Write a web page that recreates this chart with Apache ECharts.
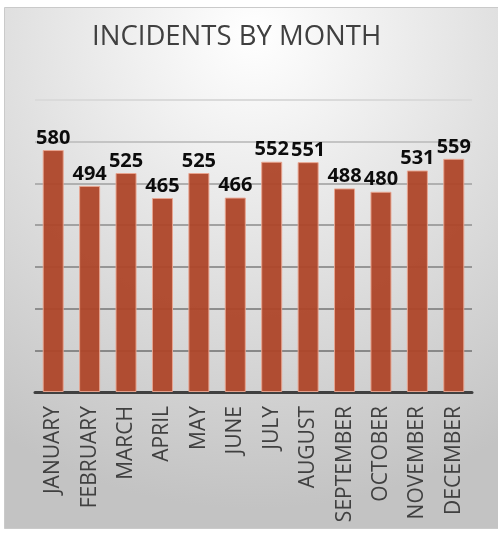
<!DOCTYPE html>
<html>
<head>
  <meta charset="utf-8">
  <title>Incidents by month</title>
  <script src="https://cdn.jsdelivr.net/npm/echarts@6.0.0/dist/echarts.min.js"></script>
  <style>
    html, body { margin: 0; padding: 0; background: #fff; }
  </style>
</head>
<body>
  <div id="main" style="width:498px; height:535px;"></div>
  <script type="text/javascript">
    const months = ['JANUARY', 'FEBRUARY', 'MARCH', 'APRIL', 'MAY', 'JUNE', 'JULY',
      'AUGUST', 'SEPTEMBER', 'OCTOBER', 'NOVEMBER', 'DECEMBER'];
    const incidents = [580, 494, 525, 465, 525, 466, 552, 551, 488, 480, 531, 559];

    // gridlines get lighter toward the top, like the original
    const gridColors = ['#858585', '#888888', '#8e8e8e', '#969696', '#a2a2a2', '#b0b0b0', '#c4c4c4', '#dadada'];

    var myChart = echarts.init(document.getElementById('main'));

    var option = {
      animation: false,
      graphic: [{
        type: 'rect',
        z: -10,
        silent: true,
        shape: { x: 4.5, y: 7.5, width: 500, height: 521 },
        style: {
          fill: new echarts.graphic.RadialGradient(0.5, 0.05, 0.95, [
            { offset: 0, color: '#ffffff' },
            { offset: 1, color: '#c3c3c3' }
          ]),
          stroke: '#cacaca',
          lineWidth: 1
        }
      }],
      title: {
        text: 'INCIDENTS BY MONTH',
        left: 87,
        top: 18,
        textStyle: {
          fontFamily: 'Open Sans',
          fontWeight: 'normal',
          fontSize: 27.5,
          color: '#404040'
        }
      },
      grid: { left: 35, right: 26, top: 100, bottom: 143 },
      xAxis: {
        type: 'category',
        data: months,
        axisTick: { show: false },
        axisLine: { lineStyle: { color: '#404040', width: 3 } },
        axisLabel: {
          rotate: 90,
          margin: 14,
          fontFamily: 'Open Sans',
          fontSize: 21,
          color: '#404040'
        }
      },
      yAxis: {
        type: 'value',
        min: 0,
        max: 700,
        interval: 100,
        axisLabel: { show: false },
        axisLine: { show: false },
        axisTick: { show: false },
        splitLine: { lineStyle: { color: gridColors, width: 2 } }
      },
      series: [{
        name: 'Incidents',
        type: 'bar',
        data: incidents,
        barWidth: 21,
        itemStyle: {
          color: '#ae4629',
          opacity: 0.95,
          borderColor: '#e9a48f',
          borderWidth: 1
        },
        label: {
          show: true,
          position: 'top',
          distance: 2,
          fontFamily: 'Open Sans',
          fontWeight: 'bold',
          fontSize: 20,
          color: '#000'
        }
      }]
    };

    myChart.setOption(option);
  </script>
</body>
</html>
